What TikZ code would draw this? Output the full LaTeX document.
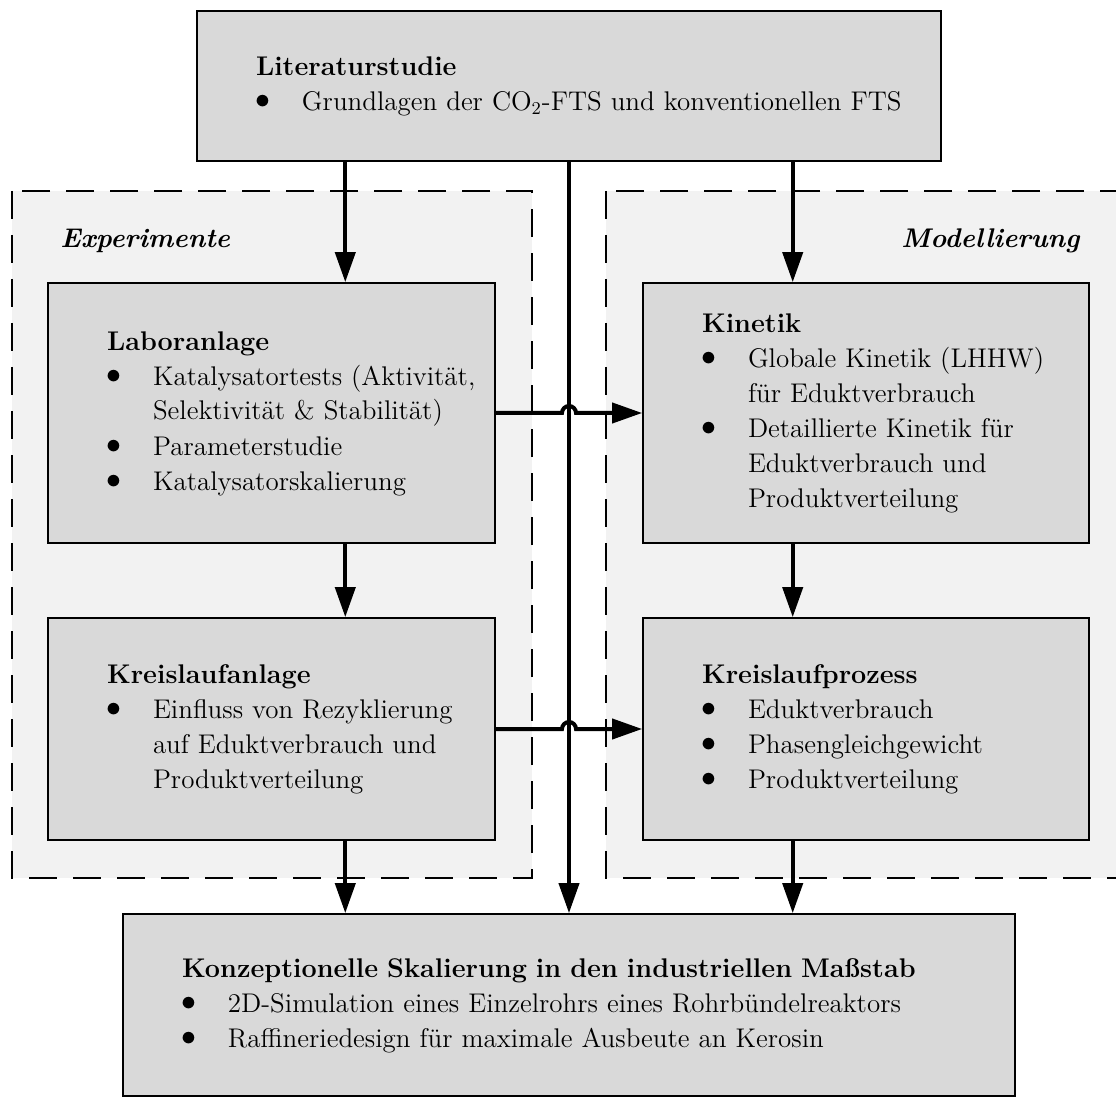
\documentclass[tikz,border=0pt]{standalone}
\usetikzlibrary{arrows.meta,calc}

\definecolor{boxgray}{HTML}{D9D9D9}
\definecolor{groupgray}{HTML}{F2F2F2}

\newcommand{\boxhead}[1]{\multicolumn{2}{@{}l@{}}{\bfseries #1}}
\newcommand{\itembullet}{\hspace*{-5pt}\raisebox{-0.6pt}[0pt][0pt]{\scalebox{1.6}{\textbullet}}}
\newenvironment{boxlist}{\begin{tabular}{@{}p{23pt}@{}l@{}}}{\end{tabular}}

\begin{document}
\begin{tikzpicture}[
  x=0.5pt, y=-0.5pt,
  every node/.style={font=\fontsize{13.5pt}{17.5pt}\selectfont},
  box/.style={draw, fill=boxgray, line width=0.85pt, inner xsep=29.5pt, inner ysep=0pt, align=left},
  group/.style={draw, fill=groupgray, line width=1pt, dash pattern=on 14pt off 8pt},
  grouptitle/.style={font=\fontsize{13.5pt}{17.5pt}\selectfont\bfseries\itshape, inner sep=0pt},
  flow/.style={line width=2pt, -{Triangle[length=15pt,width=10pt]}}
]
\useasboundingbox (0,0) rectangle (1116,1097);

% groups
\draw[group] (12,191) rectangle (532,878);
\draw[group] (606,191) rectangle (1126,878);
\node[grouptitle, anchor=west] (exptitle) at (60,241) {Experimente};
\node[grouptitle, anchor=east] (modtitle) at (1080,241) {Modellierung};

% boxes
\node[box, text width=313pt, minimum height=75pt] (lit) at (569,86) {%
  \begin{boxlist}
  \boxhead{Literaturstudie}\\
  \itembullet & Grundlagen der CO$_2$-FTS und konventionellen FTS
  \end{boxlist}};
\node[box, text width=164.5pt, minimum height=130pt] (lab) at (271.5,413) {%
  \begin{boxlist}
  \boxhead{Laboranlage}\\
  \itembullet & Katalysatortests (Aktivität,\\
   & Selektivität \& Stabilität)\\
  \itembullet & Parameterstudie\\
  \itembullet & Katalysatorskalierung
  \end{boxlist}};
\node[box, text width=164.5pt, minimum height=111pt] (kla) at (271.5,729) {%
  \begin{boxlist}
  \boxhead{Kreislaufanlage}\\
  \itembullet & Einfluss von Rezyklierung\\
   & auf Eduktverbrauch und\\
   & Produktverteilung
  \end{boxlist}};
\node[box, text width=164pt, minimum height=130pt] (kin) at (866,413) {%
  \begin{boxlist}
  \boxhead{Kinetik}\\
  \itembullet & Globale Kinetik (LHHW)\\
   & für Eduktverbrauch\\
  \itembullet & Detaillierte Kinetik für\\
   & Eduktverbrauch und\\
   & Produktverteilung
  \end{boxlist}};
\node[box, text width=164pt, minimum height=111pt] (kpr) at (866,729) {%
  \begin{boxlist}
  \boxhead{Kreislaufprozess}\\
  \itembullet & Eduktverbrauch\\
  \itembullet & Phasengleichgewicht\\
  \itembullet & Produktverteilung
  \end{boxlist}};
\node[box, text width=387pt, minimum height=91pt] (fin) at (569,1005) {%
  \begin{boxlist}
  \boxhead{Konzeptionelle Skalierung in den industriellen Maßstab}\\
  \itembullet & 2D-Simulation eines Einzelrohrs eines Rohrbündelreaktors\\
  \itembullet & Raffineriedesign für maximale Ausbeute an Kerosin
  \end{boxlist}};

% connectors
\coordinate (left) at ($(lit.south west)!0.2!(lit.south east)$);
\coordinate (right) at ($(lit.south west)!0.8!(lit.south east)$);
\draw[flow] (left) -- (left |- lab.north);
\draw[flow] (right) -- (right |- kin.north);
\draw[flow] (lit.south) -- (lit.south |- fin.north);
\draw[flow] (left |- lab.south) -- (left |- kla.north);
\draw[flow] (right |- kin.south) -- (right |- kpr.north);
\draw[flow] (left |- kla.south) -- (left |- fin.north);
\draw[flow] (right |- kpr.south) -- (right |- fin.north);
\draw[flow] (lab.east) -- ($(lab.east -| lit.south)+(-3.5pt,0)$)
  arc[start angle=180, end angle=0, radius=3.5pt] -- (kin.west);
\draw[flow] (kla.east) -- ($(kla.east -| lit.south)+(-3.5pt,0)$)
  arc[start angle=180, end angle=0, radius=3.5pt] -- (kpr.west);
\end{tikzpicture}
\end{document}
